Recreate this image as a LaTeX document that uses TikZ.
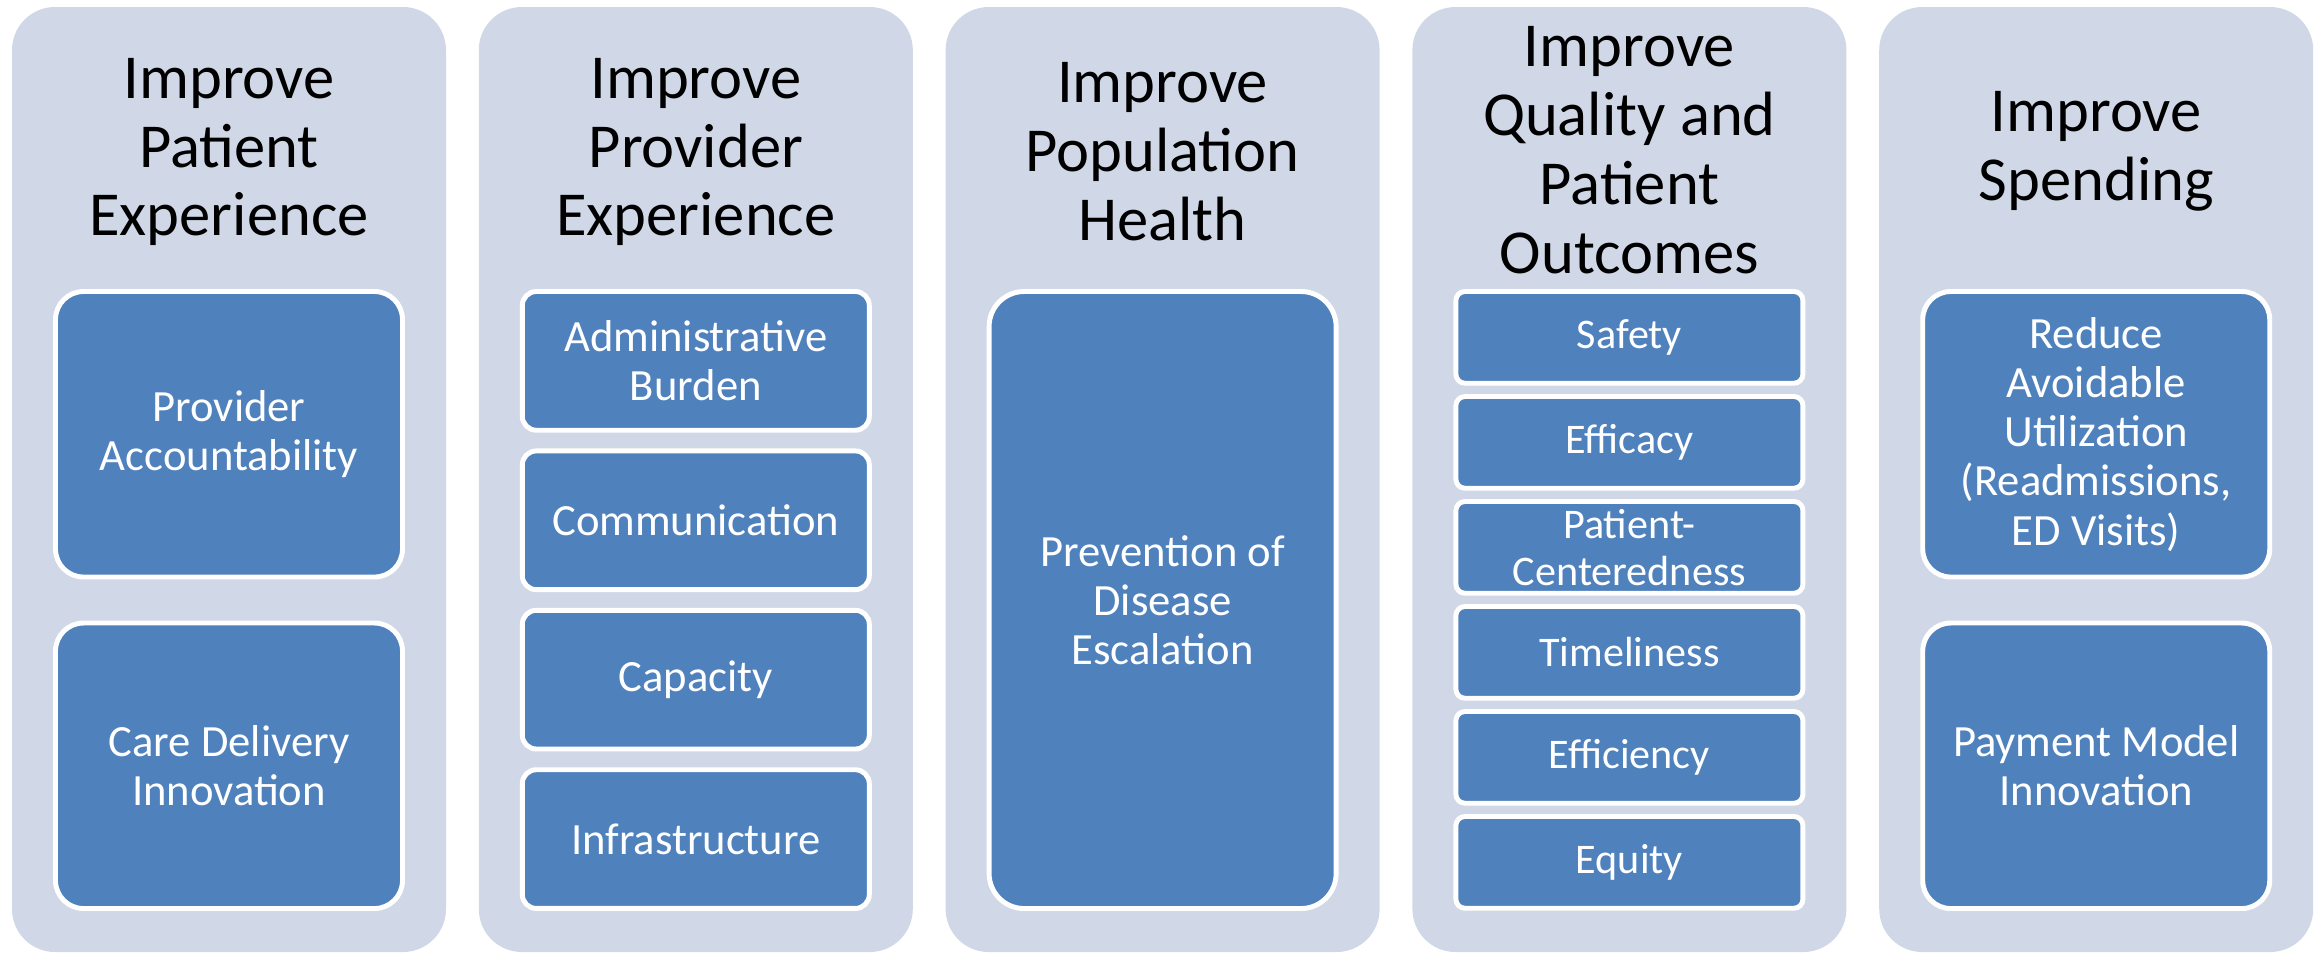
\documentclass[tikz,border=0pt]{standalone}
\usepackage{fontspec}
\setmainfont{Carlito}
\usetikzlibrary{positioning}
\definecolor{panelgray}{RGB}{208,216,232}
\definecolor{boxblue}{RGB}{79,129,189}

\begin{document}
\begin{tikzpicture}[x=0.1mm,y=-0.1mm,
    panel/.style={fill=panelgray,rounded corners=4.3mm,minimum width=43.4mm,minimum height=94.5mm,inner sep=0pt,outer sep=0pt},
    heading/.style={align=center,text=black,font=\fontsize{17.8}{19.6}\selectfont},
    item/.style={draw=white,line width=1.4pt,fill=boxblue,text=white,align=center,minimum width=34.7mm,inner sep=0pt,outer sep=0pt,font=\fontsize{12.7}{14}\selectfont},
    smallitem/.style={item,font=\fontsize{12}{13.3}\selectfont}]
    \useasboundingbox (0,0) rectangle (2320,956);

    % background panels
    \node[panel] (panA) at (229,479.5) {};
    \node[panel] (panB) at (695.8,479.5) {};
    \node[panel] (panC) at (1162.6,479.5) {};
    \node[panel] (panD) at (1629.4,479.5) {};
    \node[panel] (panE) at (2096.2,479.5) {};

    % headings
    \node[heading] (headA) at (229,152) {Improve\\Patient\\Experience};
    \node[heading] (headB) at (695.8,152) {Improve\\Provider\\Experience};
    \node[heading] (headC) at (1162.6,152) {Improve\\Population\\Health};
    \node[heading] (headD) at (1629.4,150) {Improve\\Quality and\\Patient\\Outcomes};
    \node[heading] (headE) at (2096.2,151) {Improve\\Spending};

    % patient experience
    \node[item,anchor=north,minimum height=28.55mm,rounded corners=2.8mm] (accnt) at (229,291.5) {Provider\\Accountability};
    \node[item,below=4.6mm of accnt,minimum height=28.55mm,rounded corners=2.8mm] (carein) {Care Delivery\\Innovation};

    % provider experience
    \node[item,anchor=north,minimum height=13.87mm,rounded corners=1.4mm] (admin) at (695.8,291.5) {Administrative\\Burden};
    \node[item,below=2.07mm of admin,minimum height=13.87mm,rounded corners=1.4mm] (comm) {Communication};
    \node[item,below=2.07mm of comm,minimum height=13.87mm,rounded corners=1.4mm] (capac) {Capacity};
    \node[item,below=2.07mm of capac,minimum height=13.87mm,rounded corners=1.4mm] (infra) {Infrastructure};

    % population health
    \node[item,anchor=north,minimum height=61.7mm,rounded corners=3.5mm] (prevent) at (1162.6,291.5) {Prevention of\\Disease\\Escalation};

    % quality and outcomes
    \node[smallitem,anchor=north,minimum height=9.17mm,rounded corners=0.9mm] (safety) at (1629.4,291.5) {Safety};
    \node[smallitem,below=1.33mm of safety,minimum height=9.17mm,rounded corners=0.9mm] (efficacy) {Efficacy};
    \node[smallitem,below=1.33mm of efficacy,minimum height=9.17mm,rounded corners=0.9mm] (centred) {Patient-\\Centeredness};
    \node[smallitem,below=1.33mm of centred,minimum height=9.17mm,rounded corners=0.9mm] (timely) {Timeliness};
    \node[smallitem,below=1.33mm of timely,minimum height=9.17mm,rounded corners=0.9mm] (effic) {Efficiency};
    \node[smallitem,below=1.33mm of effic,minimum height=9.17mm,rounded corners=0.9mm] (equity) {Equity};

    % spending
    \node[item,anchor=north,minimum height=28.55mm,rounded corners=2.8mm] (avoid) at (2096.2,291.5) {Reduce\\Avoidable\\Utilization\\(Readmissions,\\ED Visits)};
    \node[item,below=4.6mm of avoid,minimum height=28.55mm,rounded corners=2.8mm] (payin) {Payment Model\\Innovation};
\end{tikzpicture}
\end{document}
